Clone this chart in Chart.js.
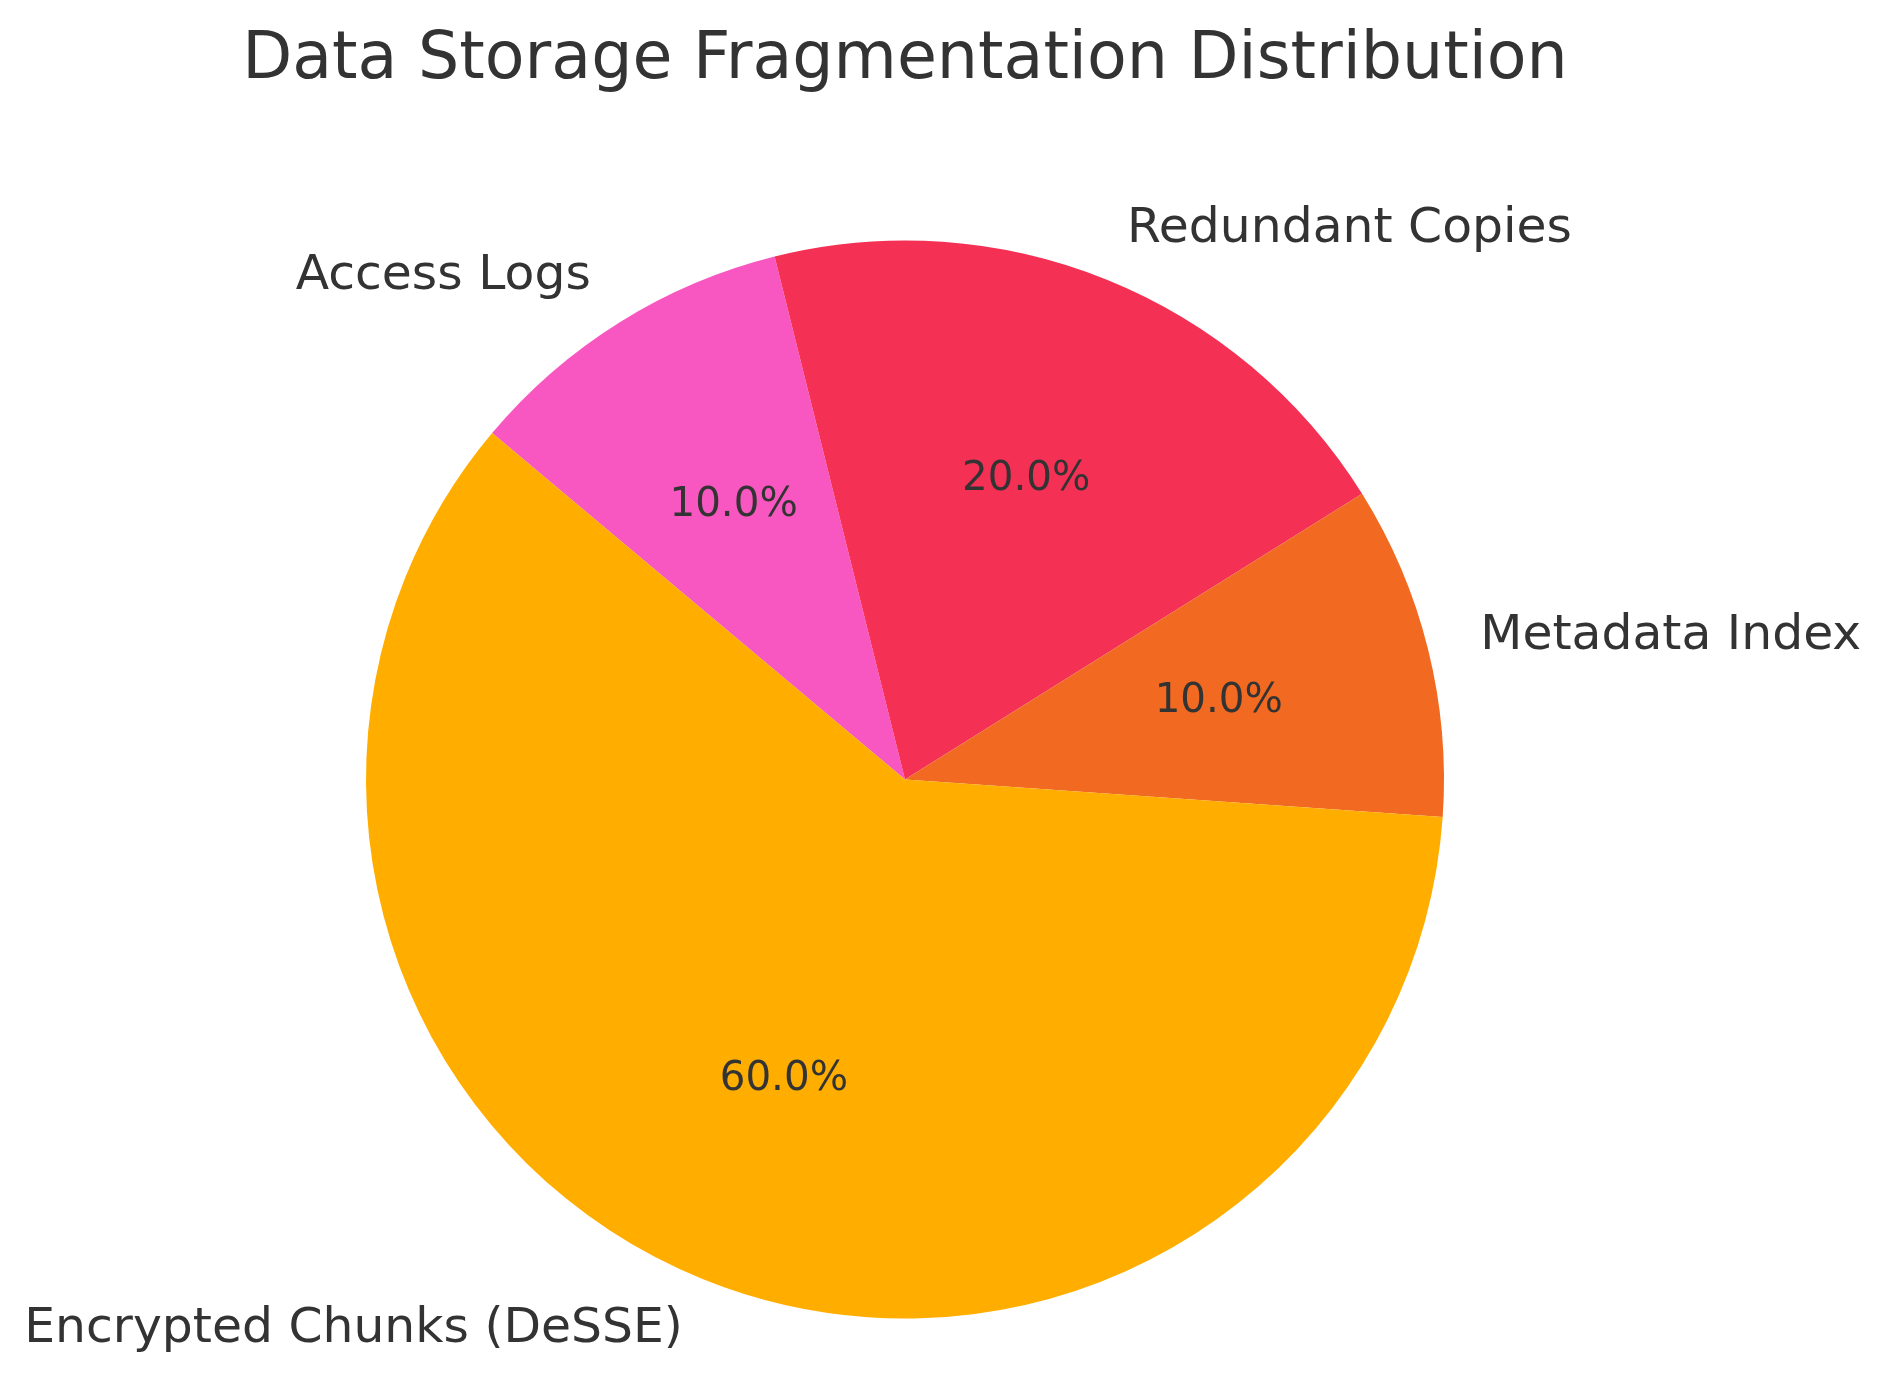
<!DOCTYPE html>
<html>
<head>
<meta charset="utf-8">
<script src="https://cdn.jsdelivr.net/npm/chart.js@4.4.0/dist/chart.umd.min.js"></script>
<style>
html,body{margin:0;padding:0;background:#ffffff;}
#wrap{width:1892px;height:1387px;position:relative;}
</style>
</head>
<body>
<div id="wrap"><canvas id="c" width="1892" height="1387"></canvas></div>
<script>
const chartTitle = "Data Storage Fragmentation Distribution";
// order is clockwise starting at upper-left (same as reference's counter-clockwise layout)
const categories = ["Access Logs", "Redundant Copies", "Metadata Index", "Encrypted Chunks (DeSSE)"];
const shares = [10, 20, 10, 60];
const sliceColors = ["#F857C1", "#F43155", "#F26A21", "#FFAE00"];

const textColor = "#333333";
const fontFamily = "'DejaVu Sans', sans-serif";

const labelPlugin = {
  id: 'pieLabels',
  afterDatasetsDraw(chart) {
    const ctx = chart.ctx;
    const meta = chart.getDatasetMeta(0);
    const data = chart.data.datasets[0].data;
    const total = data.reduce((a, b) => a + b, 0);
    ctx.save();
    ctx.fillStyle = textColor;
    ctx.textBaseline = 'middle';
    meta.data.forEach((arc, i) => {
      const p = arc.getProps(['x', 'y', 'startAngle', 'endAngle', 'outerRadius'], true);
      const mid = (p.startAngle + p.endAngle) / 2;
      const cx = Math.cos(mid), cy = Math.sin(mid);
      // outer label
      const lr = p.outerRadius * 1.1;
      ctx.font = "48.8px " + fontFamily;
      ctx.textAlign = cx >= 0 ? 'left' : 'right';
      ctx.fillText(chart.data.labels[i], p.x + lr * cx, p.y + lr * cy);
      // percentage
      const pr = p.outerRadius * 0.6;
      ctx.font = "40.4px " + fontFamily;
      ctx.textAlign = 'center';
      ctx.fillText((data[i] / total * 100).toFixed(1) + '%', p.x + pr * cx, p.y + pr * cy);
    });
    // title
    ctx.font = "65px " + fontFamily;
    ctx.textAlign = 'center';
    ctx.fillText(chartTitle, 905, 61);
    ctx.restore();
  }
};

new Chart(document.getElementById('c'), {
  type: 'pie',
  data: {
    labels: categories,
    datasets: [{
      data: shares,
      backgroundColor: sliceColors,
      borderWidth: 0,
      hoverOffset: 0
    }]
  },
  options: {
    responsive: false,
    devicePixelRatio: 1,
    animation: false,
    rotation: -50,
    layout: { padding: { top: 240, bottom: 68, left: 366, right: 448 } },
    plugins: {
      legend: { display: false },
      tooltip: { enabled: false },
      title: { display: false }
    },
    events: []
  },
  plugins: [labelPlugin]
});
</script>
</body>
</html>
